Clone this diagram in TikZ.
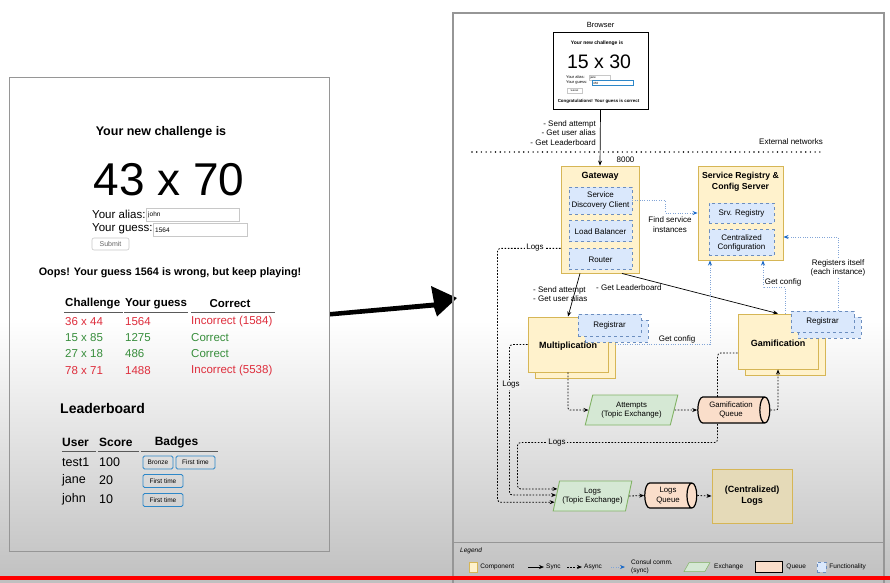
\documentclass[tikz,border=0pt]{standalone}
\usepackage{fontspec}
\setmainfont{Liberation Sans}
\usepackage{tikz}
\usetikzlibrary{arrows.meta,positioning,shapes.geometric,calc}
\definecolor{compfill}{RGB}{255,242,204}
\definecolor{compline}{RGB}{214,182,86}
\definecolor{funcfill}{RGB}{218,232,252}
\definecolor{funcline}{RGB}{108,142,191}
\definecolor{exchfill}{RGB}{213,232,212}
\definecolor{exchline}{RGB}{130,179,102}
\definecolor{queuefill}{RGB}{250,222,202}
\definecolor{consulline}{RGB}{130,165,215}
\definecolor{consulblue}{RGB}{25,105,200}
\definecolor{wrongred}{RGB}{222,45,60}
\definecolor{rightgreen}{RGB}{56,142,60}
\definecolor{badgeblue}{RGB}{45,135,200}
\definecolor{panelgray}{RGB}{150,150,150}
\definecolor{fieldgray}{RGB}{200,200,200}
\definecolor{rulegray}{RGB}{90,90,90}
\definecolor{screengray}{RGB}{192,192,192}
\newcommand{\fsz}[2]{\fontsize{#1}{#2}\selectfont}
\pgfdeclarelayer{back}
\pgfsetlayers{back,main}
\tikzset{
  comp/.style={draw=compline,fill=compfill,line width=0.9pt,inner sep=0pt,align=center},
  func/.style={draw=funcline,fill=funcfill,dashed,line width=0.9pt,inner sep=0pt,
    align=center,font=\fsz{8}{9.5}},
  exch/.style={trapezium,trapezium left angle=72,trapezium right angle=108,
    trapezium stretches=true,draw=exchline,fill=exchfill,line width=0.9pt,
    inner sep=1pt,align=center,font=\fsz{7.8}{9.5}},
  queue/.style={cylinder,shape aspect=0.6,draw=black,fill=queuefill,line width=1.2pt,
    inner sep=0pt,align=center,font=\fsz{7.8}{9.5}},
  sync/.style={->,line width=0.7pt},
  async/.style={->,line width=0.8pt,dash pattern=on 1.6pt off 1.6pt},
  consul/.style={-{Stealth[length=5pt,width=4pt,color=consulblue]},consulline,
    line width=0.8pt,dash pattern=on 1pt off 1.4pt},
  lbl/.style={font=\fsz{8}{9.5},inner sep=1pt,align=center},
  lgtxt/.style={font=\fsz{6.5}{7.5},inner sep=0pt,align=left},
  badge/.style={draw=badgeblue,line width=0.9pt,rounded corners=1.5pt,
    font=\fsz{6.5}{7.5},minimum height=13,inner sep=0pt},
  field/.style={draw=fieldgray,line width=0.6pt,inner sep=0pt}
}

\begin{document}
\begin{tikzpicture}[x=1pt,y=-1pt,>={Stealth[length=5pt,width=4pt]}]
  \useasboundingbox (0,0) rectangle (890,582);
  % ---- screen background: white, darkening to the bottom ----
  \begin{pgfonlayer}{back}
    \fill[white] (0,0) rectangle (890,582);
    \shade[top color=white,bottom color=screengray] (0,320) rectangle (890,582);
  \end{pgfonlayer}
  % ---- LEFT: the web page ----
  \draw[panelgray,line width=1pt] (9,77) rectangle (329,551);
  \node[font=\bfseries\fsz{12.5}{15}] (newch) at (161,132) {Your new challenge is};
  \node[font=\fsz{46}{50}] (factors) at (169,180) {43 x 70};
  \node[anchor=west,font=\fsz{11.5}{13},inner sep=0pt] (alias) at (92,214) {Your alias:};
  \node[field,minimum width=93,minimum height=13] (aliasbox) at (192.5,214.5) {};
  \node[anchor=west,font=\fsz{6.5}{7},inner sep=0pt] (aliasval) at (148,215) {john};
  \node[anchor=west,font=\fsz{11.5}{13},inner sep=0pt] (guess) at (92,229) {Your guess:};
  \node[field,minimum width=94,minimum height=13] (guessbox) at (200,229.5) {};
  \node[anchor=west,font=\fsz{6.5}{7},inner sep=0pt] (guessval) at (155,230) {1564};
  \node[field,rounded corners=2pt,minimum width=37,minimum height=12,
    font=\fsz{7}{8},text=black!60] (submit) at (110.5,244) {Submit};
  \node[font=\bfseries\fsz{10.8}{13}] (oops) at (170,273)
    {Oops! Your guess 1564 is wrong, but keep playing!};
  % attempts table
  \node[anchor=west,font=\bfseries\fsz{11.5}{13},inner sep=0pt] (hch) at (65,304) {Challenge};
  \node[anchor=west,font=\bfseries\fsz{11.5}{13},inner sep=0pt] (hgu) at (125,304) {Your guess};
  \node[font=\bfseries\fsz{11.5}{13},inner sep=0pt] (hco) at (230,304) {Correct};
  \draw[rulegray,line width=0.8pt] (64,312.5) -- (123,312.5) (124,312.5) -- (188,312.5)
    (191,312.5) -- (275,312.5);
  \foreach \ch/\gu/\res/\col/\y in {36 x 44/1564/Incorrect (1584)/wrongred/322,
      15 x 85/1275/Correct/rightgreen/338, 27 x 18/486/Correct/rightgreen/354,
      78 x 71/1488/Incorrect (5538)/wrongred/371}{
    \node[anchor=west,font=\fsz{11.5}{13},inner sep=0pt,text=\col] (ch\y) at (65,\y) {\ch};
    \node[anchor=west,font=\fsz{11.5}{13},inner sep=0pt,text=\col] (gu\y) at (125,\y) {\gu};
    \node[anchor=west,font=\fsz{11.5}{13},inner sep=0pt,text=\col] (res\y) at (191,\y) {\res};
  }
  % leaderboard
  \node[anchor=west,font=\bfseries\fsz{14}{16},inner sep=0pt] (lboard) at (60,408) {Leaderboard};
  \node[anchor=west,font=\bfseries\fsz{12}{14},inner sep=0pt] (huser) at (62,442) {User};
  \node[anchor=west,font=\bfseries\fsz{12}{14},inner sep=0pt] (hscore) at (99,442) {Score};
  \node[font=\bfseries\fsz{12}{14},inner sep=0pt] (hbadges) at (176.5,442) {Badges};
  \draw[rulegray,line width=0.8pt] (62,451) -- (96,451) (98,451) -- (139,451)
    (141,451) -- (218,451);
  \foreach \us/\sc/\y in {test1/100/462, jane/20/480, john/10/499}{
    \node[anchor=west,font=\fsz{12.5}{14},inner sep=0pt] (us\y) at (62,\y) {\us};
    \node[anchor=west,font=\fsz{12.5}{14},inner sep=0pt] (sc\y) at (99,\y) {\sc};
  }
  \node[badge,minimum width=30] (bronze) at (158,462.5) {Bronze};
  \node[badge,minimum width=39] (first1) at (195.5,462.5) {First time};
  \node[badge,minimum width=40] (first2) at (163,481) {First time};
  \node[badge,minimum width=40] (first3) at (163,500) {First time};
  % ---- big arrow ----
  \fill[black] (330,312) -- (434,302.5) -- (431,286) -- (457,298) -- (437,316.5)
    -- (434,307.5) -- (330,316.5) -- cycle;
  % ---- RIGHT: architecture diagram ----
  \draw[panelgray,line width=1.5pt] (453,13) rectangle (884,590);
  \draw[panelgray,line width=1pt] (453,542) -- (884,542);
  % browser
  \node[font=\fsz{7.5}{9}] (browserlbl) at (600.5,24.5) {Browser};
  \node[draw=black,fill=white,line width=0.9pt,minimum width=95,minimum height=77] (browser)
    at (600.5,70.5) {};
  \node[font=\bfseries\fsz{5}{6}] (bnewch) at (597,43) {Your new challenge is};
  \node[font=\fsz{19.5}{22}] (bfactors) at (599,62) {15 x 30};
  \node[anchor=west,font=\fsz{4}{5},inner sep=0pt] (balias) at (566,77.5) {Your alias:};
  \node[field,line width=0.3pt,minimum width=21,minimum height=5] (baliasbox) at (599.5,77.5) {};
  \node[anchor=west,font=\fsz{3}{3},inner sep=0pt] (baliasval) at (590,77.5) {jane};
  \node[anchor=west,font=\fsz{4}{5},inner sep=0pt] (bguess) at (566,83) {Your guess:};
  \node[draw=badgeblue,line width=0.5pt,minimum width=41,minimum height=5,inner sep=0pt]
    (bguessbox) at (612.5,83) {};
  \node[anchor=west,font=\fsz{3}{3},inner sep=0pt] (bguessval) at (593,83) {450};
  \node[field,line width=0.3pt,minimum width=15,minimum height=5,font=\fsz{2.5}{3}]
    (bsubmit) at (574.5,90.5) {Submit};
  \node[font=\bfseries\fsz{4.4}{5}] (bcongrats) at (598.5,101.5)
    {Congratulations! Your guess is correct};
  % external network line
  \coordinate (extl) at (472,152);
  \coordinate (extr) at (823,152);
  \draw[line width=1.6pt,line cap=round,dash pattern=on 0pt off 4.7pt] (extl) -- (extr);
  \node[lbl,anchor=east] (extlbl) at (824,142) {External networks};
  \node[lbl] (port) at (625.5,160) {8000};
  % gateway
  \node[comp,minimum width=78,minimum height=107] (gw) at (600,219.5) {};
  \node[font=\bfseries\fsz{9}{11}] (gwtitle) at (600,176) {Gateway};
  \node[func,minimum width=63,minimum height=27] (sdc) at (600.5,200.5)
    {Service\\Discovery Client};
  \node[func,minimum width=63,minimum height=21,below=6pt of sdc] (lb) {Load Balancer};
  \node[func,minimum width=63,minimum height=21,below=6pt of lb] (router) {Router};
  % service registry & config server
  \node[comp,minimum width=85,minimum height=94] (cfg) at (740.5,213) {};
  \node[font=\bfseries\fsz{8.7}{11},align=center] (cfgtitle) at (740.5,181.5)
    {Service Registry \&\\Config Server};
  \node[func,minimum width=65,minimum height=20] (srvreg) at (741.5,213) {Srv. Registry};
  \node[func,minimum width=65,minimum height=26,below=6pt of srvreg] (central)
    {Centralized\\Configuration};
  % multiplication
  \node[comp,minimum width=80,minimum height=55] (multbk) at (575,350.5) {};
  \node[comp,minimum width=80,minimum height=55] (mult) at (568,344.5) {};
  \node[func,minimum width=63,minimum height=22] (multregbk) at (616.5,331) {};
  \node[func,minimum width=63,minimum height=22] (multreg) at (609.5,325) {Registrar};
  \node[font=\bfseries\fsz{9}{11}] (multlbl) at (568,346.5) {Multiplication};
  % gamification
  \node[comp,minimum width=80,minimum height=55] (gambk) at (785,347.5) {};
  \node[comp,minimum width=80,minimum height=55] (gam) at (778,341.5) {};
  \node[func,minimum width=63,minimum height=21] (gamregbk) at (829.5,327.5) {};
  \node[func,minimum width=63,minimum height=21] (gamreg) at (822.5,321.5) {Registrar};
  \node[font=\bfseries\fsz{9}{11}] (gamlbl) at (778,343) {Gamification};
  % exchanges, queues, logs
  \node[exch,minimum width=93,minimum height=30] (attex) at (631.5,410)
    {Attempts\\(Topic Exchange)};
  \node[queue,minimum width=26,minimum height=72] (gq) at (731,410) {Gamification\\Queue};
  \node[exch,minimum width=79,minimum height=30] (logex) at (592.5,496)
    {Logs\\(Topic Exchange)};
  \node[queue,minimum width=25,minimum height=52] (lq) at (668,495.5) {Logs\\Queue};
  \node[comp,minimum width=80,minimum height=54,font=\bfseries\fsz{9}{11},
    fill=compfill!90!black] (clogs) at (752,496) {(Centralized)\\Logs};
  % ---- connectors ----
  \draw[sync] (browser.south) -- (gw.north);
  \node[lbl,anchor=east,align=right] (browserops) at (597,133)
    {- Send attempt\\- Get user alias\\- Get Leaderboard};
  \draw[sync] ([xshift=-20pt]gw.south) -- (mult.north);
  \node[lbl,anchor=west,align=left] (multops) at (532,294)
    {- Send attempt\\- Get user alias};
  \draw[sync] ([xshift=22pt]gw.south) -- (gam.north);
  \node[lbl,anchor=west] (gamops) at (595,288) {- Get Leaderboard};
  \draw[consul] (sdc.east) -- ++(33,0) |- (cfg.west);
  \node[lbl] (findlbl) at (670,224.5) {Find service\\instances};
  \draw[consul] (mult -| multbk.east) -| ([xshift=-30.5pt]cfg.south);
  \node[lbl] (multcfglbl) at (677,339) {Get config};
  \draw[consul] ([xshift=7pt]gam.north) -- ++(0,-26) -| ([xshift=22.5pt]cfg.south);
  \node[lbl,fill=white] (gamcfglbl) at (783,282) {Get config};
  \draw[consul] ([xshift=15.5pt]gamreg.north) |- ([yshift=-24pt]cfg.east);
  \node[lbl,fill=white] (reglbl) at (838,268) {Registers itself\\(each instance)};
  \draw[async,rounded corners=2pt] (mult.south) |- (attex.west);
  \draw[async] (attex.east) -- (gq.west);
  \draw[async,rounded corners=2pt] (gq.east) -| (gam.south);
  \draw[async] (logex.east) -- (lq.west);
  \draw[async] (lq.east) -- (clogs.west);
  % logs into the logs exchange
  \coordinate (login1) at ($(logex.bottom left corner)!0.73!(logex.top left corner)$);
  \coordinate (login2) at ($(logex.bottom left corner)!0.53!(logex.top left corner)$);
  \coordinate (login3) at ($(logex.bottom left corner)!0.3!(logex.top left corner)$);
  \begin{pgfonlayer}{back}
    \draw[async,rounded corners=3pt] ([yshift=-11.5pt]gam.west) -- ++(-20,0)
      -- ++(0,89.5) -- ++(-200,0) |- (login1);
  \end{pgfonlayer}
  \node[lbl,fill=white!88!black] (gamlogs) at (557,443) {Logs};
  \draw[async,rounded corners=3pt] (mult.west) -- ++(-18,0) |- (login2);
  \node[lbl,fill=white!94!black] (multlogs) at (511,385) {Logs};
  \draw[async,rounded corners=3pt] (router.north -| gw.west) -- ++(-63,0) |- (login3);
  \node[lbl,fill=white] (gwlogs) at (535,247.5) {Logs};
  % ---- legend ----
  \node[anchor=west,font=\itshape\fsz{6.5}{7.5},inner sep=0pt] (legend) at (460,551) {Legend};
  \node[comp,minimum width=8,minimum height=10,line width=0.5pt] (lgcomp) at (473,567) {};
  \node[lgtxt,right=3pt of lgcomp] (lgcomptxt) {Component};
  \coordinate (lgsynca) at (528,567);
  \coordinate (lgsyncb) at (544,567);
  \draw[sync] (lgsynca) -- (lgsyncb);
  \node[lgtxt,right=2pt of lgsyncb] (lgsynctxt) {Sync};
  \coordinate (lgasynca) at (567,567);
  \coordinate (lgasyncb) at (582,567);
  \draw[async] (lgasynca) -- (lgasyncb);
  \node[lgtxt,right=2pt of lgasyncb] (lgasynctxt) {Async};
  \coordinate (lgconsula) at (611,567);
  \coordinate (lgconsulb) at (625,567);
  \draw[consul] (lgconsula) -- (lgconsulb);
  \node[lgtxt,anchor=west] (lgconsultxt) at (631,567) {Consul comm.\\(sync)};
  \node[exch,minimum width=26,minimum height=9,line width=0.5pt,inner sep=0.5pt] (lgexch)
    at (697,567) {};
  \node[lgtxt,anchor=west] (lgexchtxt) at (714,567) {Exchange};
  \node[queue,minimum width=11,minimum height=27,line width=1pt] (lgqueue) at (769,567) {};
  \node[lgtxt,right=3pt of lgqueue] (lgqueuetxt) {Queue};
  \node[func,minimum width=9,minimum height=10,line width=0.5pt] (lgfunc) at (821.5,567) {};
  \node[lgtxt,right=3pt of lgfunc] (lgfunctxt) {Functionality};
  % ---- red bar ----
  \fill[red] (0,576) rectangle (890,580);
\end{tikzpicture}
\end{document}
